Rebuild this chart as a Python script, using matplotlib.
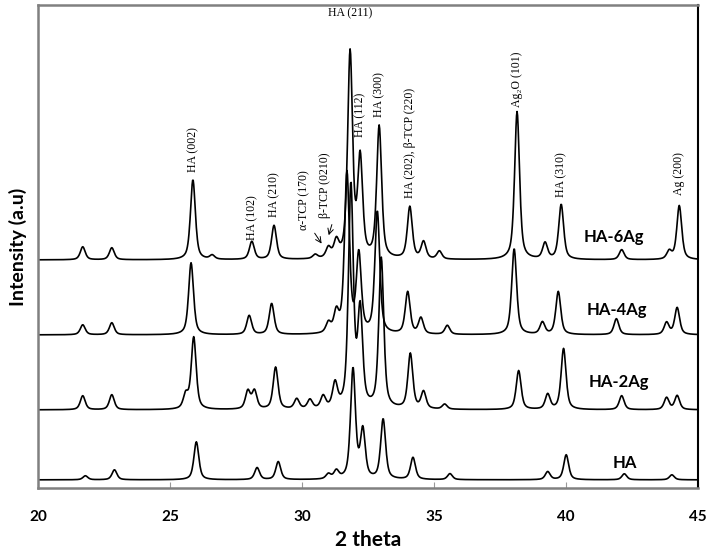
import numpy as np
import matplotlib.pyplot as plt

# peak positions (2 theta) and heights (a.u. above each baseline)
ha_pos = [21.8, 22.9, 26.0, 28.3, 29.1, 31.0, 31.3, 31.93, 32.3, 33.07, 34.2, 35.6, 39.3, 40.0, 42.2, 44.0]
ha_int = [4, 10, 38, 12, 18, 5, 8, 110, 48, 60, 22, 6, 8, 25, 6, 5]

ag2_pos = [21.7, 22.8, 25.6, 25.9, 27.95, 28.2, 29.0, 29.8, 30.3, 30.8, 31.25, 31.85, 32.2, 33.0,
           34.1, 34.6, 35.4, 38.2, 39.3, 39.9, 42.1, 43.8, 44.2]
ag2_int = [14, 15, 14, 72, 18, 18, 42, 10, 9, 12, 24, 222, 95, 150, 55, 17, 5, 39, 15, 61, 14, 12, 14]

ag4_pos = [21.7, 22.8, 25.8, 28.0, 28.85, 31.0, 31.3, 31.7, 32.15, 32.85, 34.0, 34.5, 35.5,
           38.03, 39.1, 39.7, 41.9, 43.8, 44.2]
ag4_int = [10, 12, 72, 19, 31, 10, 20, 160, 78, 122, 42, 16, 9, 86, 12, 43, 16, 12, 27]

ag6_pos = [21.7, 22.8, 25.87, 26.6, 28.1, 28.94, 30.5, 31.0, 31.3, 31.82, 32.2, 32.92, 34.08,
           34.6, 35.2, 38.14, 39.2, 39.81, 42.1, 43.9, 44.28]
ag6_int = [13, 12, 80, 4, 18, 34, 4, 10, 16, 205, 98, 132, 52, 17, 8, 148, 16, 55, 10, 8, 54]

series_names = ['HA', 'HA-2Ag', 'HA-4Ag', 'HA-6Ag']
baselines = [8, 78, 153, 228]
name_pos = [(42.2, 25), (42.0, 106), (41.9, 178), (41.8, 251)]

# phase labels: (text, 2theta, y of text bottom)
peak_labels = [
    ('HA (002)', 25.87, 316),
    ('HA (102)', 28.1, 248),
    ('HA (210)', 28.94, 271),
    ('\u03b1-TCP (170)', 30.1, 258),
    ('\u03b2-TCP (0210)', 30.87, 270),
    ('HA (112)', 32.2, 351),
    ('HA (300)', 32.92, 371),
    ('HA (202), \u03b2-TCP (220)', 34.1, 290),
    ('Ag\u2082O (101)', 38.14, 381),
    ('HA (310)', 39.81, 291),
    ('Ag (200)', 44.28, 293),
]

HWHM = 0.11
ETA = 0.6
tt = np.arange(20, 45.001, 0.02)


def profile(pos, inten, base):
    y = np.full_like(tt, base, dtype=float)
    for p, h in zip(pos, inten):
        u = (tt - p) / HWHM
        y += h * (ETA / (1 + u ** 2) + (1 - ETA) * np.exp(-np.log(2) * u ** 2))
    return y


fig = plt.figure(figsize=(7.14, 5.5), dpi=100)
ax = fig.add_axes([0.053, 0.113, 0.925, 0.878])

for pos, inten, base in zip([ha_pos, ag2_pos, ag4_pos, ag6_pos],
                            [ha_int, ag2_int, ag4_int, ag6_int], baselines):
    ax.plot(tt, profile(pos, inten, base), color='black', lw=1.2)

for name, (x, y) in zip(series_names, name_pos):
    ax.text(x, y, name, fontsize=12, fontweight='bold', family='Lato', ha='center', va='center')

for txt, x, y in peak_labels:
    ax.text(x, y, txt, rotation=90, ha='center', va='bottom', fontsize=8.5,
            family='Liberation Serif')

ax.text(31.82, 475, 'HA (211)', ha='center', va='center', fontsize=8.5, family='Liberation Serif')

# arrows for the TCP reflections
ax.annotate('', xy=(30.8, 242), xytext=(30.42, 257),
            arrowprops=dict(arrowstyle='->', lw=0.7, color='black'))
ax.annotate('', xy=(30.98, 250), xytext=(31.16, 266),
            arrowprops=dict(arrowstyle='->', lw=0.7, color='black'))

ax.set_xlim(20, 45)
ax.set_ylim(0, 483)
ax.set_yticks([])
ax.set_xticks([20, 25, 30, 35, 40, 45])
ax.tick_params(axis='x', direction='in', length=4, color='#999999', pad=16,
               labelsize=11)
for lab in ax.get_xticklabels():
    lab.set_fontweight('bold')
    lab.set_family('Lato')

for side in ['left', 'top', 'bottom']:
    ax.spines[side].set_color('#808080')
    ax.spines[side].set_linewidth(1.8)
ax.spines['right'].set_color('black')
ax.spines['right'].set_linewidth(1.5)

ax.set_xlabel('2 theta', fontsize=15, fontweight='bold', family='Lato', labelpad=4)
ax.set_ylabel('Intensity (a.u)', fontsize=14, fontweight='bold', family='Lato', labelpad=8)

fig.savefig('out.png', dpi=100)
